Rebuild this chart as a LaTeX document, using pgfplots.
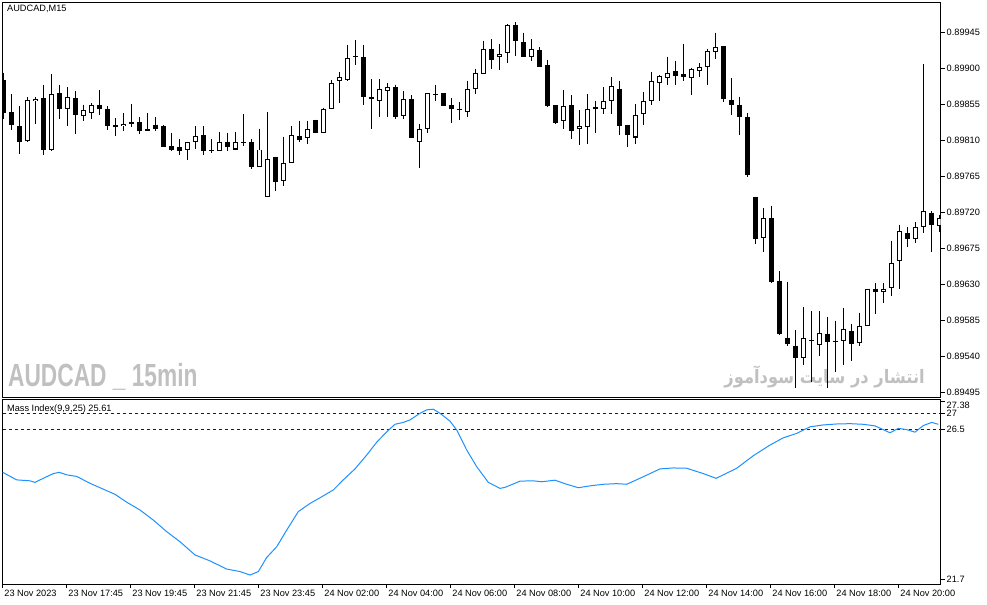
\documentclass[border=0pt]{standalone}
\usepackage{fontspec}
\setmainfont{Liberation Sans}
\newfontfamily\arabicfont[Script=Arabic]{DejaVu Sans}
\TeXXeTstate=1
\usepackage{pgfplots}
\pgfplotsset{compat=1.18}
\usepackage{pgfplotstable}
\definecolor{mi}{RGB}{30,144,255}
\definecolor{wm}{RGB}{192,192,192}
\definecolor{lvl}{RGB}{0,0,255}

\pgfplotstableread{
i O H L C
0 0.89886 0.89895 0.89837 0.89845
1 0.89846 0.89868 0.89823 0.89829
2 0.89828 0.89853 0.89793 0.89808
3 0.89809 0.89864 0.89808 0.89861
4 0.89859 0.89864 0.89831 0.89862
5 0.89863 0.89880 0.89792 0.89798
6 0.89798 0.89893 0.89797 0.89868
7 0.89869 0.89880 0.89837 0.89849
8 0.89849 0.89877 0.89828 0.89864
9 0.89863 0.89872 0.89818 0.89842
10 0.89841 0.89855 0.89834 0.89848
11 0.89844 0.89857 0.89837 0.89854
12 0.89855 0.89873 0.89842 0.89849
13 0.89850 0.89853 0.89823 0.89828
14 0.89829 0.89838 0.89816 0.89827
15 0.89828 0.89844 0.89822 0.89831
16 0.89833 0.89856 0.89827 0.89831
17 0.89833 0.89839 0.89818 0.89822
18 0.89824 0.89844 0.89822 0.89822
19 0.89830 0.89839 0.89822 0.89825
20 0.89828 0.89829 0.89802 0.89802
21 0.89803 0.89820 0.89797 0.89799
22 0.89802 0.89812 0.89792 0.89797
23 0.89798 0.89809 0.89786 0.89808
24 0.89808 0.89828 0.89800 0.89816
25 0.89817 0.89828 0.89792 0.89797
26 0.89798 0.89812 0.89795 0.89797
27 0.89797 0.89821 0.89797 0.89809
28 0.89809 0.89820 0.89797 0.89802
29 0.89799 0.89821 0.89799 0.89808
30 0.89807 0.89843 0.89804 0.89808
31 0.89809 0.89812 0.89775 0.89777
32 0.89777 0.89825 0.89777 0.89799
33 0.89740 0.89846 0.89740 0.89787
34 0.89790 0.89790 0.89747 0.89759
35 0.89760 0.89815 0.89754 0.89782
36 0.89782 0.89828 0.89782 0.89817
37 0.89816 0.89835 0.89808 0.89811
38 0.89813 0.89835 0.89806 0.89824
39 0.89836 0.89836 0.89819 0.89819
40 0.89819 0.89851 0.89819 0.89850
41 0.89849 0.89886 0.89849 0.89882
42 0.89884 0.89896 0.89857 0.89890
43 0.89886 0.89930 0.89885 0.89913
44 0.89916 0.89936 0.89905 0.89914
45 0.89914 0.89930 0.89855 0.89865
46 0.89865 0.89887 0.89825 0.89862
47 0.89860 0.89887 0.89839 0.89874
48 0.89872 0.89882 0.89840 0.89877
49 0.89877 0.89880 0.89837 0.89840
50 0.89841 0.89872 0.89837 0.89862
51 0.89862 0.89867 0.89814 0.89814
52 0.89808 0.89831 0.89776 0.89824
53 0.89825 0.89869 0.89819 0.89869
54 0.89867 0.89880 0.89860 0.89868
55 0.89869 0.89869 0.89853 0.89853
56 0.89855 0.89863 0.89832 0.89849
57 0.89850 0.89858 0.89836 0.89848
58 0.89846 0.89885 0.89839 0.89874
59 0.89874 0.89900 0.89868 0.89895
60 0.89893 0.89935 0.89893 0.89925
61 0.89925 0.89937 0.89900 0.89911
62 0.89915 0.89931 0.89898 0.89918
63 0.89919 0.89956 0.89907 0.89955
64 0.89955 0.89958 0.89916 0.89935
65 0.89933 0.89945 0.89915 0.89915
66 0.89915 0.89937 0.89909 0.89925
67 0.89923 0.89927 0.89902 0.89902
68 0.89905 0.89911 0.89852 0.89853
69 0.89854 0.89854 0.89831 0.89832
70 0.89835 0.89873 0.89825 0.89853
71 0.89854 0.89867 0.89812 0.89822
72 0.89825 0.89848 0.89804 0.89828
73 0.89827 0.89868 0.89806 0.89850
74 0.89852 0.89860 0.89820 0.89849
75 0.89849 0.89877 0.89843 0.89860
76 0.89859 0.89889 0.89843 0.89878
77 0.89875 0.89885 0.89817 0.89828
78 0.89830 0.89830 0.89802 0.89817
79 0.89814 0.89856 0.89806 0.89842
80 0.89843 0.89871 0.89830 0.89860
81 0.89859 0.89896 0.89855 0.89885
82 0.89882 0.89892 0.89860 0.89891
83 0.89888 0.89915 0.89879 0.89894
84 0.89897 0.89910 0.89879 0.89891
85 0.89893 0.89931 0.89885 0.89890
86 0.89888 0.89901 0.89867 0.89900
87 0.89897 0.89907 0.89890 0.89902
88 0.89902 0.89925 0.89880 0.89922
89 0.89921 0.89945 0.89912 0.89927
90 0.89928 0.89928 0.89858 0.89862
91 0.89861 0.89888 0.89842 0.89854
92 0.89855 0.89865 0.89817 0.89839
93 0.89839 0.89844 0.89765 0.89767
94 0.89740 0.89740 0.89681 0.89687
95 0.89688 0.89726 0.89671 0.89713
96 0.89713 0.89729 0.89632 0.89633
97 0.89635 0.89647 0.89567 0.89569
98 0.89564 0.89634 0.89554 0.89556
99 0.89554 0.89573 0.89501 0.89539
100 0.89539 0.89602 0.89530 0.89563
101 0.89561 0.89597 0.89508 0.89560
102 0.89555 0.89597 0.89541 0.89570
103 0.89569 0.89590 0.89501 0.89559
104 0.89559 0.89585 0.89521 0.89560
105 0.89560 0.89601 0.89530 0.89575
106 0.89572 0.89581 0.89535 0.89556
107 0.89557 0.89595 0.89553 0.89579
108 0.89578 0.89625 0.89578 0.89625
109 0.89625 0.89632 0.89594 0.89621
110 0.89621 0.89632 0.89607 0.89625
111 0.89626 0.89685 0.89616 0.89657
112 0.89660 0.89705 0.89625 0.89697
113 0.89695 0.89702 0.89677 0.89687
114 0.89687 0.89708 0.89682 0.89702
115 0.89702 0.89906 0.89695 0.89722
116 0.89720 0.89722 0.89671 0.89705
117 0.89704 0.89717 0.89696 0.89713
}\candles

\pgfplotstableread{
x v
-0.125 25.12
1.625 24.88
3.29 24.85
3.91 24.80
4.95 24.93
6.2 25.08
6.95 25.12
7.875 25.04
9.125 24.99
10.79 24.77
12.04 24.63
13.91 24.42
15.375 24.17
17.04 23.92
18.7 23.60
20.375 23.23
22.04 22.91
23.91 22.49
25.79 22.30
27.875 22.04
29.54 21.96
30.79 21.85
31.83 21.96
32.875 22.41
34.125 22.75
35.375 23.28
36.825 23.87
38.29 24.13
39.54 24.31
41.2 24.56
42.45 24.88
43.91 25.23
45.375 25.67
46.625 26.08
47.875 26.41
48.91 26.65
49.95 26.71
50.79 26.79
52.04 27.00
52.875 27.11
53.7 27.13
54.54 27.00
55.79 26.75
56.625 26.47
57.875 25.83
59.125 25.30
60.575 24.80
62.04 24.61
62.66 24.64
64.54 24.84
66.2 24.85
67.25 24.82
68.91 24.87
70.375 24.74
71.825 24.63
73.29 24.69
74.95 24.74
76.625 24.76
77.875 24.74
79.95 24.98
82.04 25.23
83.7 25.26
85.375 25.25
87.45 25.08
89.04 24.93
89.95 25.04
91.625 25.25
93.7 25.65
95.79 25.99
97.45 26.22
99.125 26.36
100.79 26.57
102.45 26.63
104.125 26.66
105.79 26.67
107.45 26.65
108.91 26.60
110.79 26.38
111.825 26.52
112.875 26.48
113.91 26.40
114.95 26.61
116.0 26.71
116.825 26.65
}\massidx

\pgfplotsset{
  mtframe/.style={
    scale only axis,
    width=937.8bp,
    xmin=-0.125, xmax=117.1,
    axis line style={black, line width=0.9bp},
    tick align=outside,
    major tick length=4bp,
    tick style={black, line width=0.8bp},
    ytick pos=right, yticklabel pos=right,
    yticklabel style={font=\fontsize{9.2bp}{10bp}\selectfont, anchor=west, inner sep=0pt, xshift=2bp},
  },
  nomark/.style={only marks, mark=none, mark options={draw=none, fill=none}, mark size=0pt},
}

\begin{document}
\begin{tikzpicture}[x=1bp,y=1bp]
\useasboundingbox (0,0) rectangle (987,-605);

\node[anchor=west, inner sep=0pt, text=wm, font=\fontsize{32bp}{32bp}\selectfont\bfseries, xscale=0.71] at (8,-377) {AUDCAD \_ 15min};
\node[anchor=east, inner sep=0pt, text=wm, font=\fontsize{18.5bp}{19bp}\selectfont\bfseries, xscale=0.88] at (925,-377) {\arabicfont\beginR انتشار در سایت سودآموز\endR};

\begin{axis}[mtframe,
  at={(2.7bp,-2.3bp)}, anchor=north west,
  height=395.2bp,
  ymin=0.89489, ymax=0.89983,
  xtick=\empty,
  ytick={0.89495,0.89540,0.89585,0.89630,0.89675,0.89720,0.89765,0.89810,0.89855,0.89900,0.89945},
  yticklabels={0.89495,0.89540,0.89585,0.89630,0.89675,0.89720,0.89765,0.89810,0.89855,0.89900,0.89945},
]
\addplot[nomark, error bars/.cd, y dir=minus, y explicit, error mark=none,
  error bar style={draw=black, line width=1bp}]
  table[x=i, y=H, y error minus expr={\thisrow{H}-\thisrow{L}}] {\candles};
\addplot[nomark, error bars/.cd, y dir=minus, y explicit, error mark=none,
  error bar style={draw=black, line width=5bp}]
  table[x=i, y expr={max(\thisrow{O},\thisrow{C})}, y error minus expr={abs(\thisrow{O}-\thisrow{C})}] {\candles};
\addplot[nomark, error bars/.cd, y dir=minus, y explicit, error mark=none,
  error bar style={draw=white, line width=3bp}]
  table[x=i, y expr={max(\thisrow{O},\thisrow{C})-0.0000125},
        y error minus expr={\thisrow{C}>\thisrow{O} ? max(\thisrow{C}-\thisrow{O}-0.000025,0) : 0}] {\candles};
\end{axis}

\node[anchor=west, inner sep=0pt, font=\fontsize{9.2bp}{10bp}\selectfont] at (7,-9) {AUDCAD,M15};

\begin{axis}[mtframe,
  at={(2.7bp,-399.7bp)}, anchor=north west,
  height=184.3bp,
  ymin=21.564, ymax=27.433,
  xtick pos=left,
  xtick={-0.125,7.875,15.875,23.875,31.875,39.875,47.875,55.875,63.875,71.875,79.875,87.875,95.875,103.875,111.875},
  xticklabels={23 Nov 2023,23 Nov 17:45,23 Nov 19:45,23 Nov 21:45,23 Nov 23:45,24 Nov 02:00,24 Nov 04:00,24 Nov 06:00,24 Nov 08:00,24 Nov 10:00,24 Nov 12:00,24 Nov 14:00,24 Nov 16:00,24 Nov 18:00,24 Nov 20:00},
  xticklabel style={font=\fontsize{9.2bp}{10bp}\selectfont, anchor=north west, inner sep=0pt, xshift=1.5bp, yshift=-2bp},
  ytick={21.7,26.5,27},
  yticklabels={21.7,26.5,27},
  extra y ticks={27.38},
  extra y tick labels={27.38},
  extra y tick style={yticklabel style={yshift=-4bp}},
]
\addplot[lvl, line width=0.8bp, dash pattern=on 3bp off 3bp] coordinates {(-0.125,27) (117.1,27)};
\addplot[lvl, line width=0.8bp, dash pattern=on 3bp off 3bp] coordinates {(-0.125,26.5) (117.1,26.5)};
\addplot[mi, line width=1bp] table[x=x, y=v] {\massidx};
\end{axis}

\node[anchor=west, inner sep=0pt, font=\fontsize{9.2bp}{10bp}\selectfont] at (7,-409) {Mass Index(9,9,25) 25.61};
\end{tikzpicture}
\end{document}
